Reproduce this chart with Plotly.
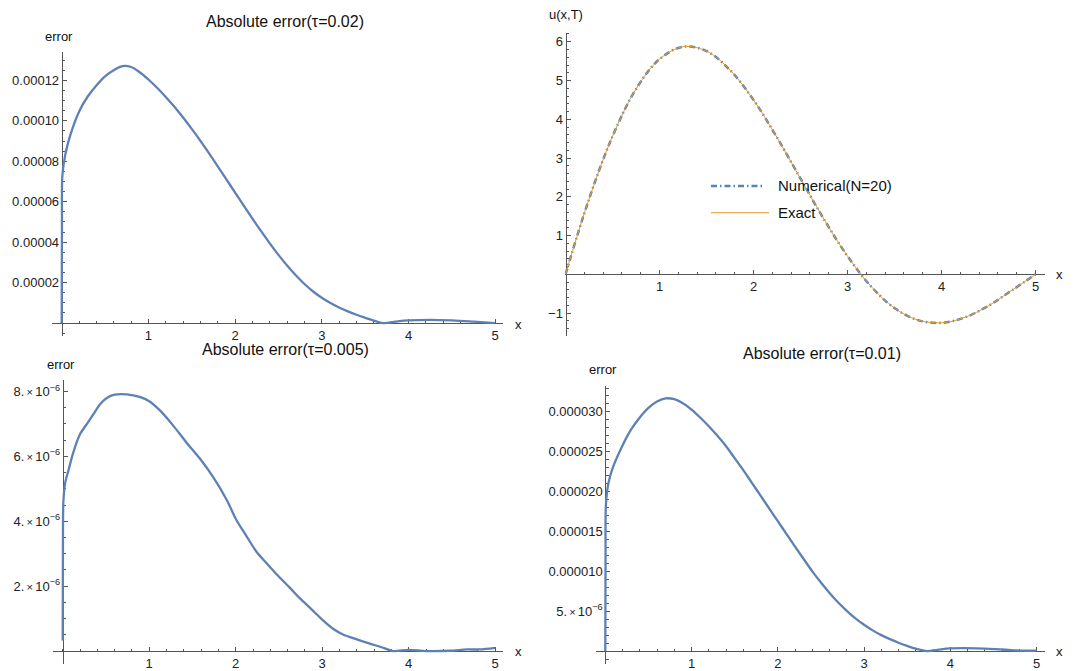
import plotly.graph_objects as go

W, H = 1074, 671

# ---------------- data ----------------
# u(x,T): numerical and exact solutions
x_u = [0, 0.25, 0.5, 0.75, 1.0, 1.25, 1.5, 1.75, 2.0, 2.25, 2.5, 2.75, 3.0,
       3.25, 3.5, 3.75, 4.0, 4.25, 4.5, 4.75, 5.0]
u_numerical = [0, 1.94, 3.56, 4.78, 5.55, 5.87, 5.76, 5.27, 4.50, 3.53, 2.47, 1.42,
               0.47, -0.31, -0.87, -1.18, -1.25, -1.11, -0.81, -0.41, 0]
u_exact = [0, 1.94, 3.56, 4.78, 5.55, 5.87, 5.76, 5.27, 4.50, 3.53, 2.47, 1.42,
           0.47, -0.31, -0.87, -1.18, -1.25, -1.11, -0.81, -0.41, 0]

# absolute error, tau = 0.02
x_e02 = [0, 0.003, 0.008, 0.04, 0.1, 0.2, 0.3, 0.4, 0.5, 0.6, 0.7, 0.8, 0.9,
         1.0, 1.1, 1.2, 1.3, 1.4, 1.5, 1.6, 1.7, 1.8, 1.9, 2.0, 2.1, 2.2, 2.3, 2.4,
         2.5, 2.6, 2.7, 2.8, 2.9, 3.0, 3.1, 3.2, 3.3, 3.4, 3.5, 3.6, 3.71,
         3.85, 4.0, 4.25, 4.5, 4.75, 5.0]
err_02 = [0, 5.0e-5, 7.3e-5, 8.3e-5, 9.3e-5, 1.045e-4, 1.12e-4, 1.175e-4, 1.22e-4,
          1.25e-4, 1.27e-4, 1.266e-4, 1.24e-4,
          1.204e-4, 1.163e-4, 1.118e-4, 1.069e-4, 1.016e-4, 9.60e-5, 9.01e-5, 8.39e-5,
          7.75e-5, 7.10e-5, 6.45e-5, 5.80e-5, 5.16e-5, 4.54e-5, 3.94e-5,
          3.37e-5, 2.84e-5, 2.36e-5, 1.93e-5, 1.56e-5, 1.25e-5, 9.9e-6, 7.7e-6,
          5.8e-6, 4.1e-6, 2.6e-6, 1.2e-6, 0.0,
          7e-7, 1.3e-6, 1.6e-6, 1.3e-6, 7e-7, 0.0]

# absolute error, tau = 0.005
x_e005 = [0, 0.003, 0.008, 0.03, 0.066, 0.12, 0.2, 0.28, 0.355, 0.43, 0.51, 0.6, 0.74,
          0.89, 1.0, 1.13, 1.28, 1.43, 1.59, 1.74, 1.9, 2.0, 2.13, 2.24, 2.36, 2.49,
          2.63, 2.74, 2.88, 3.0, 3.13, 3.24, 3.4, 3.55, 3.71, 3.82, 4.0, 4.2, 4.48,
          4.67, 4.82, 5.0]
err_005 = [3.3e-7, 3.5e-6, 4.6e-6, 5.2e-6, 5.56e-6, 6.1e-6, 6.68e-6, 7.0e-6, 7.3e-6,
           7.6e-6, 7.8e-6, 7.9e-6, 7.91e-6, 7.83e-6, 7.7e-6, 7.4e-6, 6.94e-6, 6.43e-6,
           5.92e-6, 5.36e-6, 4.64e-6, 4.08e-6, 3.52e-6, 3.06e-6, 2.7e-6, 2.32e-6,
           1.94e-6, 1.63e-6, 1.28e-6, 9.7e-7, 6.8e-7, 5.1e-7, 3.6e-7, 2.3e-7, 1.0e-7,
           0.0, 4e-8, 0.0, 1e-8, 5e-8, 5e-8, 1.0e-7]

# absolute error, tau = 0.01
x_e01 = [0, 0.003, 0.008, 0.035, 0.09, 0.2, 0.3, 0.4, 0.5, 0.6, 0.7, 0.8, 0.9,
         1.0, 1.1, 1.2, 1.3, 1.4, 1.5, 1.6, 1.7, 1.8, 1.9, 2.0, 2.1, 2.2, 2.3, 2.4,
         2.5, 2.6, 2.7, 2.8, 2.9, 3.0, 3.1, 3.2, 3.3, 3.4, 3.5, 3.6, 3.73,
         3.85, 4.0, 4.3, 4.6, 4.85, 5.0]
err_01 = [0, 1.2e-5, 1.85e-5, 2.1e-5, 2.31e-5, 2.58e-5, 2.78e-5, 2.93e-5, 3.05e-5,
          3.13e-5, 3.17e-5, 3.16e-5, 3.11e-5,
          3.03e-5, 2.93e-5, 2.82e-5, 2.70e-5, 2.57e-5, 2.42e-5, 2.27e-5, 2.11e-5,
          1.95e-5, 1.79e-5, 1.63e-5, 1.47e-5, 1.31e-5, 1.155e-5, 1.00e-5,
          8.6e-6, 7.3e-6, 6.1e-6, 5.05e-6, 4.1e-6, 3.3e-6, 2.6e-6, 2.0e-6,
          1.5e-6, 1.05e-6, 6.5e-7, 3.0e-7, 0.0,
          1.5e-7, 3.3e-7, 3.5e-7, 2.0e-7, 5e-8, 5e-8]

# tick labels
x_ticks = [1, 2, 3, 4, 5]
x_ticktext = ["1", "2", "3", "4", "5"]
tl_yticks = [2e-5, 4e-5, 6e-5, 8e-5, 1e-4, 1.2e-4]
tl_yticktext = ["0.00002", "0.00004", "0.00006", "0.00008", "0.00010", "0.00012"]
tr_yticks = [-1, 1, 2, 3, 4, 5, 6]
tr_yticktext = ["\u22121", "1", "2", "3", "4", "5", "6"]
bl_yticks = [2e-6, 4e-6, 6e-6, 8e-6]
SCI = "<span style='font-size:11px'>\u2009\u00d7\u2009</span>10<sup>\u22126</sup>"
bl_yticktext = ["2." + SCI, "4." + SCI, "6." + SCI, "8." + SCI]
br_yticks = [5e-6, 1e-5, 1.5e-5, 2e-5, 2.5e-5, 3e-5]
br_yticktext = ["5." + SCI, "0.000010", "0.000015", "0.000020", "0.000025", "0.000030"]
legend_names = ["Numerical(N=20)", "Exact"]

BLUE = "#5E81B5"
ORANGE = "#E19C24"
AX = "#555555"
FONT = "Liberation Sans, Arial, sans-serif"
DASHDOT = "6px,3px,1.5px,3px"

fig = go.Figure()

# panel pixel geometry
panels = {
    "tl": dict(xd=(52, 503), yd=(52, 338), x0=61.7, sx=86.7, y0=325, sy=40.7 / 2e-5,
               ydt=5e-6, yt=tl_yticks, ytt=tl_yticktext),
    "tr": dict(xd=(565, 1045), yd=(33, 338), x0=565.5, sx=94.0, y0=276, sy=39.0,
               ydt=0.2, yt=tr_yticks, ytt=tr_yticktext),
    "bl": dict(xd=(53, 503), yd=(382.7, 668), x0=62.7, sx=86.5, y0=655, sy=65.3 / 2e-6,
               ydt=5e-7, yt=bl_yticks, ytt=bl_yticktext),
    "br": dict(xd=(596, 1045), yd=(388, 668), x0=605.3, sx=86.25, y0=655, sy=40.1 / 5e-6,
               ydt=1e-6, yt=br_yticks, ytt=br_yticktext),
}
order = ["tl", "tr", "bl", "br"]

layout = {}
for i, key in enumerate(order):
    p = panels[key]
    n = "" if i == 0 else str(i + 1)
    xr = [(p["xd"][0] - p["x0"]) / p["sx"], (p["xd"][1] - p["x0"]) / p["sx"]]
    yr = [-(p["yd"][1] - p["y0"]) / p["sy"], (p["y0"] - p["yd"][0]) / p["sy"]]
    common = dict(showgrid=False, zeroline=False, showline=True, linecolor=AX,
                  linewidth=1, ticks="inside", ticklen=4, tickcolor=AX, tickwidth=1,
                  tickmode="array", anchor="free", layer="below traces",
                  tickfont=dict(family=FONT, size=13, color="#222"), fixedrange=True)
    layout["xaxis" + n] = dict(
        common, domain=[p["xd"][0] / W, p["xd"][1] / W], range=xr,
        position=1 - p["y0"] / H, tickvals=x_ticks, ticktext=x_ticktext,
        minor=dict(ticks="inside", ticklen=2.5, tickcolor=AX, dtick=0.2, tick0=0,
                   showgrid=False))
    layout["yaxis" + n] = dict(
        common, domain=[1 - p["yd"][1] / H, 1 - p["yd"][0] / H], range=yr,
        position=p["x0"] / W, tickvals=p["yt"], ticktext=p["ytt"],
        minor=dict(ticks="inside", ticklen=2.5, tickcolor=AX, dtick=p["ydt"], tick0=0,
                   showgrid=False))

# traces
fig.add_trace(go.Scatter(x=x_e02, y=err_02, mode="lines", xaxis="x", yaxis="y",
                         line=dict(color=BLUE, width=2.3, shape="spline", smoothing=1.0),
                         showlegend=False))
fig.add_trace(go.Scatter(x=x_u, y=u_numerical, mode="lines", xaxis="x2", yaxis="y2",
                         name=legend_names[0], showlegend=False,
                         line=dict(color=BLUE, width=2.5, dash=DASHDOT, shape="spline")))
fig.add_trace(go.Scatter(x=x_u, y=u_exact, mode="lines", xaxis="x2", yaxis="y2",
                         name=legend_names[1], showlegend=False,
                         line=dict(color=ORANGE, width=1, shape="spline")))
fig.add_trace(go.Scatter(x=x_e005, y=err_005, mode="lines", xaxis="x3", yaxis="y3",
                         line=dict(color=BLUE, width=2.3, shape="spline", smoothing=0.8),
                         showlegend=False))
fig.add_trace(go.Scatter(x=x_e01, y=err_01, mode="lines", xaxis="x4", yaxis="y4",
                         line=dict(color=BLUE, width=2.3, shape="spline", smoothing=1.0),
                         showlegend=False))


def ann(text, x, y, size=13, xanchor="center"):
    return dict(text=text, x=x / W, y=1 - y / H, xref="paper", yref="paper",
                xanchor=xanchor, yanchor="middle", showarrow=False,
                font=dict(family=FONT, size=size, color="#111"))


annotations = [
    ann("Absolute error(\u03c4=0.02)", 285, 22, 16),
    ann("Absolute error(\u03c4=0.005)", 285, 352, 16),
    ann("Absolute error(\u03c4=0.01)", 822, 356, 16),
    ann("error", 59, 37),
    ann("error", 61, 367),
    ann("error", 603, 372),
    ann("u(x,T)", 566, 15),
    ann("x", 513, 326, 13, "left"),
    ann("x", 1054, 276, 13, "left"),
    ann("x", 513, 655, 13, "left"),
    ann("x", 1054, 655, 13, "left"),
    # legend labels
    ann(legend_names[0], 776, 187, 15, "left"),
    ann(legend_names[1], 776, 214, 15, "left"),
]

# legend samples
shapes = [
    dict(type="line", xref="paper", yref="paper", x0=711 / W, x1=763 / W,
         y0=1 - 187 / H, y1=1 - 187 / H, line=dict(color=BLUE, width=2.5, dash=DASHDOT)),
    dict(type="line", xref="paper", yref="paper", x0=711 / W, x1=769 / W,
         y0=1 - 214 / H, y1=1 - 214 / H, line=dict(color=ORANGE, width=1)),
]

fig.update_layout(
    width=W, height=H, margin=dict(l=0, r=0, t=0, b=0),
    paper_bgcolor="white", plot_bgcolor="white",
    annotations=annotations, shapes=shapes,
    showlegend=False,
    **layout,
)

fig.write_html("out.html")
